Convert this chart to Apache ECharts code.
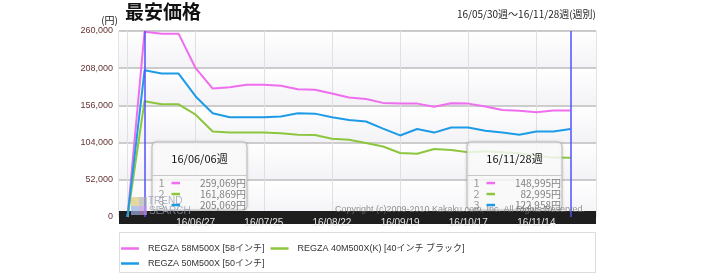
<!DOCTYPE html>
<html lang="ja">
<head>
<meta charset="utf-8" />
<title>最安価格</title>
<script src="https://cdn.jsdelivr.net/npm/echarts@6/dist/echarts.min.js"></script>
<style>
  html, body { margin: 0; padding: 0; background: #fff; }
  #main { width: 715px; height: 274px; }
</style>
</head>
<body>
<div id="main"></div>
<script>
// 週 (5/30 ～ 11/28) + 右端の余白用に1週
var weeks = ['16/05/30', '16/06/06', '16/06/13', '16/06/20', '16/06/27', '16/07/04', '16/07/11',
  '16/07/18', '16/07/25', '16/08/01', '16/08/08', '16/08/15', '16/08/22', '16/08/29', '16/09/05',
  '16/09/12', '16/09/19', '16/09/26', '16/10/03', '16/10/10', '16/10/17', '16/10/24', '16/10/31',
  '16/11/07', '16/11/14', '16/11/21', '16/11/28', '16/12/05'];

var names = ['REGZA 58M500X [58インチ]', 'REGZA 40M500X(K) [40インチ ブラック]', 'REGZA 50M500X [50インチ]'];
var colors = ['#ee6eee', '#8cc63f', '#1e9be6'];

var price58 = [0, 259069, 256000, 256000, 208000, 179500, 181500, 185000, 185000, 183500, 178500,
  178000, 172500, 167000, 165000, 159500, 158500, 158500, 154000, 159000, 158500, 154500, 149500,
  148500, 146500, 149000, 148995];
var price40 = [0, 161869, 157500, 157500, 143000, 119500, 118000, 118000, 118000, 117000, 115000,
  114500, 109500, 108000, 103500, 98500, 89500, 88500, 95000, 93500, 90500, 92000, 90500,
  89000, 85500, 83000, 82995];
var price50 = [0, 205069, 200500, 200500, 168500, 145000, 139500, 139500, 139500, 140500, 145000,
  144500, 139500, 135500, 133500, 123500, 114000, 123000, 118000, 125000, 125000, 120500, 118000,
  115000, 119500, 119500, 122958];

var yTicks = [0, 52000, 104000, 156000, 208000, 260000];

var firstIdx = 1;   // 16/06/06週
var lastIdx = 26;   // 16/11/28週

var LAT = '"Liberation Sans", "Noto Sans CJK JP", sans-serif';
var JP = '"Noto Sans CJK JP", sans-serif';

function fmt(n) {
  return String(n).replace(/\B(?=(\d{3})+(?!\d))/g, ',');
}

// 子要素にも z を付ける (group の z は子に効かない)
function withZ(z, list) {
  list.forEach(function (el) { el.z = z; });
  return list;
}

// 吹き出し(週ごとの価格)
function weekBox(x, idx) {
  var vals = [price58[idx], price40[idx], price50[idx]];
  var kids = [
    { type: 'rect', shape: { x: 0, y: 0, width: 95, height: 68, r: 4 },
      style: { fill: 'rgba(255,255,255,0.82)', stroke: '#b8b8b8', lineWidth: 1, shadowBlur: 3, shadowColor: 'rgba(0,0,0,0.15)' } },
    { type: 'line', shape: { x1: 0, y1: 33.5, x2: 95, y2: 33.5 }, style: { stroke: '#c8c8c8', lineWidth: 1 } },
    { type: 'text', x: 47.5, y: 17, style: { text: weeks[idx] + '週', fill: '#111', fontSize: 11, fontFamily: JP, align: 'center', verticalAlign: 'middle' } }
  ];
  for (var i = 0; i < 3; i++) {
    var cy = 41 + i * 11;
    kids.push({ type: 'text', x: 9.5, y: cy, style: { text: String(i + 1), fill: '#999', fontSize: 11, fontFamily: JP, align: 'center', verticalAlign: 'middle' } });
    kids.push({ type: 'rect', shape: { x: 19.5, y: cy - 1.2, width: 8.5, height: 2.5 }, style: { fill: colors[i] } });
    kids.push({ type: 'text', x: 94, y: cy, style: { text: fmt(vals[i]) + '円', fill: '#808080', fontSize: 10, fontFamily: JP, align: 'right', verticalAlign: 'middle' } });
  }
  return { type: 'group', x: x, y: 142, children: withZ(20, kids) };
}

var myChart = echarts.init(document.getElementById('main'));

var option = {
  animation: false,
  title: [
    { text: '最安価格', left: 125, top: 2, padding: 0, textStyle: { fontSize: 19, fontWeight: 'bold', color: '#111', fontFamily: JP } },
    { text: weeks[0] + '週～' + weeks[lastIdx] + '週(週別)', right: 119, top: 9, padding: 0,
      textStyle: { fontSize: 10, fontWeight: 'normal', color: '#222', fontFamily: JP } }
  ],
  grid: {
    left: 119, right: 119, top: 31, bottom: 57,
    show: true, backgroundColor: '#fff', borderColor: '#c8c8c8', borderWidth: 1
  },
  legend: {
    left: 116, top: 239,
    width: 360,
    itemWidth: 18, itemHeight: 2.5, itemGap: 6,
    icon: 'rect',
    textStyle: { fontSize: 9, color: '#333', fontFamily: LAT, padding: [0, 0, 0, 4] },
    data: names
  },
  xAxis: {
    type: 'category',
    data: weeks,
    boundaryGap: true,
    offset: 6.5,
    axisLine: { lineStyle: { color: '#1e1e1e', width: 13, cap: 'butt' } },
    axisTick: { show: false },
    axisLabel: {
      interval: function (i) { return i > 0 && i % 4 === 0 && i <= lastIdx; },
      color: '#e6e6e6', fontSize: 10, fontFamily: LAT, margin: 0, verticalAlign: 'middle'
    },
    splitLine: {
      show: true, alignWithLabel: true,
      interval: function (i) { return i % 4 === 0 && i <= lastIdx; },
      lineStyle: { color: '#e0e0e0', width: 1 }
    }
  },
  yAxis: {
    type: 'value',
    min: yTicks[0], max: yTicks[yTicks.length - 1], interval: yTicks[1] - yTicks[0],
    name: '(円)', nameGap: 6,
    nameTextStyle: { color: '#222', fontSize: 10, fontFamily: JP, align: 'right', verticalAlign: 'bottom', padding: [0, 1, 0, 0] },
    axisLine: { show: false },
    axisTick: { show: false },
    axisLabel: { color: '#663333', fontSize: 9, fontFamily: LAT, margin: 6, formatter: function (v) { return fmt(v); } },
    splitLine: { lineStyle: { color: '#bcbcbc', width: 1.5 } },
    splitArea: {
      show: true,
      areaStyle: { color: [new echarts.graphic.LinearGradient(0, 0, 0, 1, [{ offset: 0, color: '#ffffff' }, { offset: 1, color: '#f3f3f7' }])] }
    }
  },
  series: [
    { name: names[0], type: 'line', data: price58, symbol: 'none', color: colors[0], lineStyle: { width: 2 },
      markLine: {
        silent: true, symbol: 'none', label: { show: false },
        lineStyle: { color: '#5050ff', width: 1.5, type: 'solid' },
        data: [{ xAxis: weeks[firstIdx] }, { xAxis: weeks[lastIdx] }]
      }
    },
    { name: names[1], type: 'line', data: price40, symbol: 'none', color: colors[1], lineStyle: { width: 2 } },
    { name: names[2], type: 'line', data: price50, symbol: 'none', color: colors[2], lineStyle: { width: 2 } }
  ],
  graphic: [
    { type: 'rect', z: -10, shape: { x: 119.5, y: 232.5, width: 476, height: 40 }, style: { fill: '#fff', stroke: '#dcdcdc', lineWidth: 1 } },
    weekBox(152, firstIdx),
    weekBox(467, lastIdx),
    { type: 'group', x: 131, y: 197, children: withZ(30, [
      { type: 'rect', shape: { x: 0, y: 0, width: 8, height: 9 }, style: { fill: 'rgba(222,205,130,0.75)' } },
      { type: 'rect', shape: { x: 8, y: 0, width: 8, height: 9 }, style: { fill: 'rgba(170,170,170,0.6)' } },
      { type: 'rect', shape: { x: 0, y: 9, width: 8, height: 9 }, style: { fill: 'rgba(150,175,225,0.7)' } },
      { type: 'rect', shape: { x: 8, y: 9, width: 8, height: 9 }, style: { fill: 'rgba(190,150,220,0.7)' } },
      { type: 'text', x: 17, y: 4, style: { text: 'TREND', fill: 'rgba(150,155,175,0.75)', fontSize: 10, fontFamily: LAT, verticalAlign: 'middle' } },
      { type: 'text', x: 18, y: 14, style: { text: 'SEARCH', fill: 'rgba(150,155,175,0.75)', fontSize: 10, fontFamily: LAT, verticalAlign: 'middle' } }
    ]) },
    { type: 'text', x: 585, y: 209.5, z: 30,
      style: { text: 'Copyright (c)2009-2010 Kakaku.com, Inc. All Rights Reserved.', fill: 'rgba(120,120,120,0.8)', fontSize: 9, fontFamily: LAT, align: 'right', verticalAlign: 'middle' } }
  ]
};
myChart.setOption(option);
window.onresize = myChart.resize;
</script>
</body>
</html>
